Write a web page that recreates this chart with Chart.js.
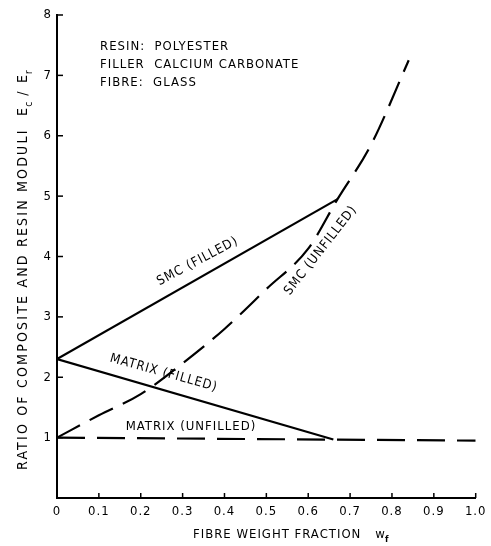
<!DOCTYPE html>
<html>
<head>
<meta charset="utf-8">
<script src="https://cdn.jsdelivr.net/npm/chart.js@4.4.1/dist/chart.umd.min.js"></script>
<style>
  html, body { margin: 0; padding: 0; background: #fff; }
  #wrap { width: 491px; height: 546px; }
</style>
</head>
<body>
<div id="wrap"><canvas id="chart"></canvas></div>
<script>
const FONT = '"DejaVu Sans Condensed", "Liberation Sans Narrow", sans-serif';

// tick labels
const xTickLabels = ['0', '0.1', '0.2', '0.3', '0.4', '0.5', '0.6', '0.7', '0.8', '0.9', '1.0'];
const yTickLabels = ['', '1', '2', '3', '4', '5', '6', '7', '8'];

// series (fibre weight fraction -> Ec/Er)
const smcFilledX = [0, 0.67];
const smcFilledY = [2.3, 4.95];
const smcUnfilledX = [0, 0.1, 0.2, 0.3, 0.4, 0.5, 0.6, 0.67, 0.75, 0.84];
const smcUnfilledY = [1.0, 1.37, 1.72, 2.23, 2.80, 3.46, 4.13, 4.95, 5.85, 7.25];
const matrixFilledX = [0, 0.66];
const matrixFilledY = [2.3, 0.97];
const matrixUnfilledX = [0, 1.0];
const matrixUnfilledY = [1.0, 0.95];

// curve labels
const curveLabels = [
  { text: 'SMC (FILLED)', x: 0.336, y: 3.92, angle: -28 },
  { text: 'SMC (UNFILLED)', x: 0.63, y: 4.1, angle: -52 },
  { text: 'MATRIX (FILLED)', x: 0.255, y: 2.07, angle: 15.5 },
  { text: 'MATRIX (UNFILLED)', x: 0.32, y: 1.18, angle: 0 }
];
const noteLines = ['RESIN:  POLYESTER', 'FILLER  CALCIUM CARBONATE', 'FIBRE:  GLASS'];

function pts(xs, ys){ return xs.map((x, i) => ({ x: x, y: ys[i] })); }

const lineBase = { borderColor: '#000', borderWidth: 2.2, pointRadius: 0, fill: false };

const decorations = {
  id: 'decorations',
  beforeDraw(chart){
    // spaced-out typewriter look for the tick labels too
    chart.ctx.letterSpacing = '1px';
  },
  afterDraw(chart){
    const ctx = chart.ctx;
    const xs = chart.scales.x, ys = chart.scales.y;
    const area = chart.chartArea;
    ctx.save();
    ctx.strokeStyle = '#000';
    ctx.fillStyle = '#000';
    ctx.lineWidth = 1.5;
    // inward ticks
    xTickLabels.forEach((t, i) => {
      const px = xs.getPixelForValue(i / 10);
      ctx.beginPath(); ctx.moveTo(px, area.bottom); ctx.lineTo(px, area.bottom - 5); ctx.stroke();
    });
    yTickLabels.forEach((t, i) => {
      const py = ys.getPixelForValue(i);
      ctx.beginPath(); ctx.moveTo(area.left, py); ctx.lineTo(area.left + 6, py); ctx.stroke();
    });

    // curve labels
    ctx.font = '13px ' + FONT;
    ctx.letterSpacing = '1px';
    ctx.textAlign = 'center';
    ctx.textBaseline = 'middle';
    curveLabels.forEach(l => {
      ctx.save();
      ctx.translate(xs.getPixelForValue(l.x), ys.getPixelForValue(l.y));
      ctx.rotate(l.angle * Math.PI / 180);
      ctx.fillText(l.text, 0, 0);
      ctx.restore();
    });

    // note block
    ctx.textAlign = 'left';
    noteLines.forEach((s, i) => {
      ctx.fillText(s, area.left + 43, area.top + 32 + i * 18);
    });

    // x title with subscript
    ctx.textBaseline = 'alphabetic';
    const xt = 'FIBRE WEIGHT FRACTION';
    const xw = ctx.measureText(xt).width;
    let tx = 193, ty = 538;
    ctx.fillText(xt, tx, ty);
    tx += xw + 14;
    ctx.fillText('w', tx, ty);
    const ww = ctx.measureText('w').width;
    ctx.font = 'bold 9px ' + FONT;
    ctx.fillText('f', tx + ww - 1, ty + 4);

    // y title with subscripts
    ctx.save();
    ctx.translate(27, 470);
    ctx.rotate(-Math.PI / 2);
    ctx.font = '14px ' + FONT;
    ctx.letterSpacing = '2.2px';
    let p = 0;
    const main = 'RATIO OF COMPOSITE AND RESIN MODULI  E';
    ctx.fillText(main, p, 0);
    p += ctx.measureText(main).width;
    ctx.font = '10px ' + FONT;
    ctx.fillText('c', p - 1, 5);
    p += ctx.measureText('c').width + 3;
    ctx.font = '14px ' + FONT;
    ctx.fillText('/ E', p, 0);
    p += ctx.measureText('/ E').width;
    ctx.font = '10px ' + FONT;
    ctx.fillText('r', p - 1, 5);
    ctx.restore();

    ctx.restore();
  }
};

new Chart(document.getElementById('chart'), {
  type: 'line',
  data: {
    datasets: [
      Object.assign({ label: 'SMC (filled)', data: pts(smcFilledX, smcFilledY) }, lineBase),
      Object.assign({ label: 'SMC (unfilled)', data: pts(smcUnfilledX, smcUnfilledY),
        borderDash: [26, 11], cubicInterpolationMode: 'monotone' }, lineBase),
      Object.assign({ label: 'Matrix (filled)', data: pts(matrixFilledX, matrixFilledY) }, lineBase),
      Object.assign({ label: 'Matrix (unfilled)', data: pts(matrixUnfilledX, matrixUnfilledY),
        borderDash: [28, 12] }, lineBase)
    ]
  },
  options: {
    responsive: true,
    maintainAspectRatio: false,
    animation: false,
    layout: { padding: { top: 15, right: 11, left: 0, bottom: 0 } },
    plugins: { legend: { display: false }, tooltip: { enabled: false } },
    scales: {
      x: {
        type: 'linear', min: 0, max: 1,
        grid: { drawOnChartArea: false, drawTicks: false },
        border: { color: '#000', width: 2 },
        ticks: {
          stepSize: 0.1, padding: 6, color: '#000',
          font: { family: FONT, size: 13 },
          callback: v => xTickLabels[Math.round(v * 10)]
        },
        afterFit: s => { s.height = 48; }
      },
      y: {
        type: 'linear', min: 0, max: 8,
        grid: { drawOnChartArea: false, drawTicks: false },
        border: { color: '#000', width: 2 },
        ticks: {
          stepSize: 1, padding: 5, color: '#000',
          font: { family: FONT, size: 13 },
          callback: v => yTickLabels[Math.round(v)]
        },
        afterFit: s => { s.width = 57; }
      }
    }
  },
  plugins: [decorations]
});
</script>
</body>
</html>
